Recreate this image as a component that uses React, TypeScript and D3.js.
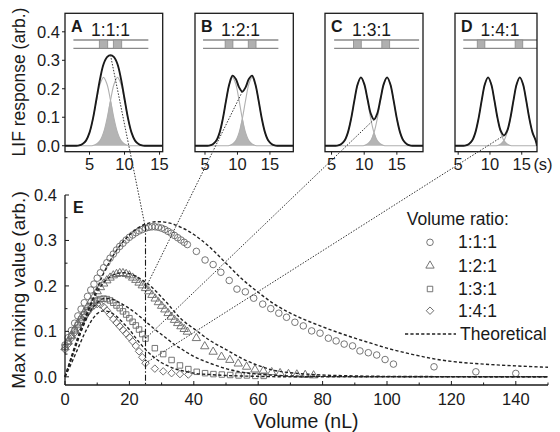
import * as d3 from 'd3';

const FONT = '"Liberation Sans", Arial, sans-serif';

// ---- inset panels A-D (LIF traces) ----
const insetLetters = ['A', 'B', 'C', 'D'];
const insetRatios = ['1:1:1', '1:2:1', '1:3:1', '1:4:1'];
const insetDomains: [number, number][] = [[1.5, 15.45], [3.46, 18.6], [4, 19], [4.5, 17.4]];
const firstPeak = [7, 9.25, 9.5, 9.7];
const secondPeak = [9, 12.25, 13.5, 14.7];
const firstPlug = [6.4, 8.1, 8.35, 8.0];
const secondPlug = [8.4, 11.66, 12.7, 13.96];
const plugLength = 1.2;
const channelStart = [2.7, 4.7, 5.4, 5.8];
const channelEnd = [13.4, 16.3, 18.4, 17.4];
const insetTicks = [5, 10, 15];
const lifTicks = [0, 0.1, 0.2, 0.3, 0.4];
// single plug response, sampled every 0.5 s from -4 s to +4 s around its centre
const pulseStep = 0.5;
const pulseShape = [0, 0.001, 0.006, 0.018, 0.046, 0.095, 0.159, 0.216, 0.24, 0.216, 0.159, 0.095, 0.046, 0.018, 0.006, 0.001, 0];

// ---- panel E: measured max mixing value ----
const circleVol = [0, 1, 2, 3, 4, 5, 6, 7, 8, 9, 10, 11, 12, 13, 14, 15, 16, 17, 18, 19, 20, 21, 22, 23, 24, 25, 26, 27, 28, 29, 30, 31, 32, 33, 34, 35, 36, 37, 38,
  40.8, 43.5, 46, 48.4, 51, 53.4, 56, 58.6, 61.4, 63.9, 66.4, 68.8, 71.4, 74, 76.6, 79.2, 81.8, 84.2, 86.7, 89.3, 91.6, 94.2, 96.8, 99.4, 102, 114.6, 127.6, 140];
const circleMix = [0.07, 0.086, 0.102, 0.118, 0.134, 0.149, 0.163, 0.177, 0.191, 0.204, 0.217, 0.229, 0.24, 0.251, 0.261, 0.27, 0.279, 0.287, 0.294, 0.301, 0.307, 0.312, 0.317, 0.321, 0.324, 0.327, 0.329, 0.33, 0.33, 0.329, 0.327, 0.324, 0.32, 0.316, 0.311, 0.306, 0.301, 0.296, 0.291,
  0.276, 0.257, 0.247, 0.23, 0.212, 0.193, 0.187, 0.173, 0.16, 0.15, 0.14, 0.131, 0.12, 0.112, 0.101, 0.096, 0.085, 0.079, 0.072, 0.068, 0.057, 0.053, 0.048, 0.038, 0.028, 0.022, 0.011, 0.0075];

const triangleVol = [0, 1, 2, 3, 4, 5, 6, 7, 8, 9, 10, 11, 12, 13, 14, 15, 16, 17, 18, 19, 20, 21, 22, 23, 24, 25, 26, 27, 28, 29, 30, 31, 32, 33, 34, 35, 36, 37, 38,
  40.8, 43.4, 46, 48.6, 51.2, 53.8, 56.4, 59, 61.6, 64.2, 66.8, 69.4, 72, 74.6, 77.2];
const triangleMix = [0.065, 0.078, 0.091, 0.104, 0.117, 0.13, 0.142, 0.154, 0.166, 0.177, 0.188, 0.197, 0.205, 0.212, 0.218, 0.223, 0.226, 0.228, 0.228, 0.226, 0.223, 0.218, 0.213, 0.207, 0.201, 0.195, 0.188, 0.18, 0.172, 0.164, 0.156, 0.148, 0.14, 0.132, 0.125, 0.118, 0.111, 0.105, 0.099,
  0.085, 0.067, 0.055, 0.044, 0.037, 0.029, 0.022, 0.016, 0.013, 0.01, 0.008, 0.006, 0.005, 0.004, 0.003];

const squareVol = [0, 1, 2, 3, 4, 5, 6, 7, 8, 9, 10, 11, 12, 13, 14, 15, 16, 17, 18, 19, 20, 21, 22, 23, 24, 25,
  27.9, 30.5, 33.1, 35.7, 38.3, 40.9, 43.5, 46.1, 48.7, 51.3, 53.9, 56.5, 59.1, 61.7];
const squareMix = [0.065, 0.077, 0.09, 0.102, 0.114, 0.126, 0.137, 0.147, 0.156, 0.163, 0.168, 0.171, 0.172, 0.171, 0.168, 0.163, 0.157, 0.151, 0.144, 0.137, 0.129, 0.121, 0.113, 0.104, 0.094, 0.084,
  0.063, 0.05, 0.037, 0.025, 0.017, 0.011, 0.008, 0.006, 0.005, 0.004, 0.003, 0.003, 0.002, 0.002];

const diamondVol = [0, 1, 2, 3, 4, 5, 6, 7, 8, 9, 10, 11, 12, 13, 14, 15, 16, 17, 18, 19, 20, 21, 22, 23, 24, 25,
  27.9, 30.5, 33.1, 35.7, 38.3];
const diamondMix = [0.06, 0.072, 0.085, 0.097, 0.109, 0.121, 0.132, 0.142, 0.151, 0.157, 0.16, 0.159, 0.154, 0.146, 0.137, 0.127, 0.119, 0.111, 0.103, 0.095, 0.087, 0.078, 0.068, 0.056, 0.043, 0.03,
  0.018, 0.012, 0.008, 0.006, 0.005];

// ---- panel E: theoretical curves ----
const theory111Vol = [0, 2, 4, 6, 8, 10, 12, 14, 16, 18, 20, 22, 24, 26, 28, 30, 32, 34, 36, 38, 40, 45, 50, 55, 60, 65, 70, 75, 80, 85, 90, 95, 100, 105, 110, 115, 120, 130, 140, 150];
const theory111 = [0, 0.04, 0.08, 0.12, 0.16, 0.195, 0.228, 0.255, 0.278, 0.297, 0.312, 0.324, 0.333, 0.338, 0.341, 0.341, 0.339, 0.335, 0.329, 0.322, 0.313, 0.285, 0.25, 0.215, 0.186, 0.16, 0.14, 0.124, 0.11, 0.097, 0.085, 0.074, 0.063, 0.054, 0.046, 0.039, 0.034, 0.028, 0.024, 0.021];
const theory121Vol = [0, 2, 4, 6, 8, 10, 12, 14, 16, 18, 20, 22, 24, 26, 28, 30, 32, 34, 36, 38, 40, 45, 50, 55, 60, 65, 70, 80, 90, 100, 150];
const theory121 = [0, 0.045, 0.088, 0.126, 0.16, 0.187, 0.207, 0.22, 0.227, 0.229, 0.227, 0.221, 0.213, 0.203, 0.19, 0.175, 0.16, 0.143, 0.128, 0.116, 0.106, 0.08, 0.06, 0.04, 0.025, 0.014, 0.009, 0.004, 0.002, 0.001, 0];
const theory131Vol = [0, 2, 4, 6, 8, 10, 12, 14, 16, 18, 20, 22, 24, 26, 28, 30, 32, 34, 36, 38, 40, 45, 50, 55, 60, 70, 80, 100, 150];
const theory131 = [0, 0.042, 0.082, 0.117, 0.145, 0.163, 0.172, 0.172, 0.167, 0.159, 0.15, 0.14, 0.128, 0.116, 0.104, 0.093, 0.082, 0.071, 0.062, 0.053, 0.045, 0.03, 0.018, 0.01, 0.006, 0.002, 0.001, 0, 0];
const theory141Vol = [0, 2, 4, 6, 8, 10, 12, 14, 16, 18, 20, 22, 24, 26, 28, 30, 32, 34, 36, 38, 40, 45, 50, 60, 70, 150];
const theory141 = [0, 0.03, 0.062, 0.094, 0.121, 0.139, 0.145, 0.142, 0.133, 0.119, 0.104, 0.085, 0.068, 0.053, 0.041, 0.031, 0.024, 0.018, 0.014, 0.011, 0.008, 0.005, 0.003, 0.001, 0, 0];

const legendLabels = ['1:1:1', '1:2:1', '1:3:1', '1:4:1'];
const mixTicks = [0, 0.1, 0.2, 0.3, 0.4];
const mixMinor = [0.05, 0.15, 0.25, 0.35];
const volTicks = [0, 20, 40, 60, 80, 100, 120, 140];
const volMinor = [10, 30, 50, 70, 90, 110, 130, 150];
const markerVolume = 25;

// layout
const insetLeft = [65, 195, 325, 455];
const insetRight = [162.7, 293.3, 423, 537];
const insetTop = 13.3;
const insetBottom = 151.7;
const channelY = [40, 48.3];

const ink = '#1a1a1a';
const markerStroke = '#666';

type Pt = [number, number];

function pulseAt(offset: number) {
  const k = Math.round(offset / pulseStep) + (pulseShape.length - 1) / 2;
  return k >= 0 && k < pulseShape.length ? pulseShape[k] : 0;
}

function symbolPath(kind: number) {
  if (kind === 0) return d3.symbol(d3.symbolCircle, 34)() as string;
  if (kind === 1) return d3.symbol(d3.symbolTriangle, 30)() as string;
  return d3.symbol(d3.symbolSquare, kind === 2 ? 30 : 28)() as string;
}

function Inset({ i }: { i: number }) {
  const x = d3.scaleLinear().domain(insetDomains[i]).range([insetLeft[i], insetRight[i]]);
  const y = d3.scaleLinear().domain([-0.021, 0.465]).range([insetBottom, insetTop]);
  const [d0, d1] = insetDomains[i];
  const c1 = firstPeak[i];
  const c2 = secondPeak[i];
  const kStart = Math.ceil((d0 - c1) / pulseStep);
  const kEnd = Math.floor((d1 - c1) / pulseStep);
  const times = d3.range(kStart, kEnd + 1).map((k) => c1 + k * pulseStep);
  const g1: Pt[] = times.map((t) => [t, pulseAt(t - c1)]);
  const g2: Pt[] = times.map((t) => [t, pulseAt(t - c2)]);
  const sum: Pt[] = times.map((t, j) => [t, g1[j][1] + g2[j][1]]);
  const overlap: Pt[] = times.map((t, j) => [t, Math.min(g1[j][1], g2[j][1])]);
  const ends = (pts: Pt[]): Pt[] => [[d0, 0], ...pts, [d1, 0]];

  const line = d3.line<Pt>().x((d) => x(d[0])).y((d) => y(d[1])).curve(d3.curveCatmullRom);
  const area = d3.area<Pt>().x((d) => x(d[0])).y0(y(0)).y1((d) => y(d[1])).curve(d3.curveCatmullRom);
  const plugs = [firstPlug[i], secondPlug[i]];
  const mid = (firstPlug[i] + secondPlug[i] + plugLength) / 2;

  return (
    <g>
      <clipPath id={`clip${i}`}>
        <rect x={insetLeft[i]} y={insetTop} width={insetRight[i] - insetLeft[i]} height={insetBottom - insetTop} />
      </clipPath>
      <g clipPath={`url(#clip${i})`}>
        <path d={area(overlap) as string} fill="#b4b4b4" stroke="none" />
        <path d={line(ends(g1)) as string} fill="none" stroke="#b0b0b0" strokeWidth={1.1} />
        <path d={line(ends(g2)) as string} fill="none" stroke="#b0b0b0" strokeWidth={1.1} />
        <path d={line(ends(sum)) as string} fill="none" stroke={ink} strokeWidth={1.9} />
      </g>
      {channelY.map((cy) => (
        <line key={cy} x1={x(channelStart[i])} x2={x(channelEnd[i])} y1={cy} y2={cy} stroke="#8a8a8a" strokeWidth={1.3} />
      ))}
      {plugs.map((p) => (
        <rect key={p} x={x(p)} y={channelY[0]} width={x(p + plugLength) - x(p)} height={channelY[1] - channelY[0]}
          fill="#b0b0b0" stroke="#8a8a8a" strokeWidth={0.8} />
      ))}
      <rect x={insetLeft[i]} y={insetTop} width={insetRight[i] - insetLeft[i]} height={insetBottom - insetTop}
        fill="none" stroke={ink} strokeWidth={1.3} />
      <text x={insetLeft[i] + 6} y={32} fontSize={16} fontWeight="bold" fill={ink}>{insetLetters[i]}</text>
      <text x={x(mid)} y={35.5} fontSize={17.5} textAnchor="middle" fill={ink}>{insetRatios[i]}</text>
      {insetTicks.map((t) => (
        <g key={t}>
          <line x1={x(t)} x2={x(t)} y1={insetBottom} y2={insetBottom + 3} stroke={ink} strokeWidth={1} />
          <text x={x(t)} y={170} fontSize={16.5} textAnchor="middle" fill={ink}>{t}</text>
        </g>
      ))}
      {i === 0 &&
        lifTicks.map((t) => (
          <g key={t}>
            <line x1={insetLeft[0] - 3} x2={insetLeft[0]} y1={y(t)} y2={y(t)} stroke={ink} strokeWidth={1} />
            <text x={60} y={y(t)} dy="0.36em" fontSize={16.5} textAnchor="end" fill={ink}>{t.toFixed(1)}</text>
          </g>
        ))}
    </g>
  );
}

export default function App() {
  const xMain = d3.scaleLinear().domain([0, 150]).range([65, 548]);
  const yMain = d3.scaleLinear().domain([-0.018, 0.4]).range([385, 195]);
  const yInset = d3.scaleLinear().domain([-0.021, 0.465]).range([insetBottom, insetTop]);

  const series = [
    { vol: circleVol, mix: circleMix },
    { vol: triangleVol, mix: triangleMix },
    { vol: squareVol, mix: squareMix },
    { vol: diamondVol, mix: diamondMix },
  ];
  const theory = [
    { vol: theory111Vol, mix: theory111 },
    { vol: theory121Vol, mix: theory121 },
    { vol: theory131Vol, mix: theory131 },
    { vol: theory141Vol, mix: theory141 },
  ];
  const theoryLine = d3.line<Pt>().x((d) => xMain(d[0])).y((d) => yMain(d[1])).curve(d3.curveMonotoneX);

  // dotted connectors: inset mixing point -> measured value at 25 nL
  const connectors = series.map((s, i) => {
    const xi = d3.scaleLinear().domain(insetDomains[i]).range([insetLeft[i], insetRight[i]]);
    const half = (secondPeak[i] - firstPeak[i]) / 2;
    const midT = firstPeak[i] + half;
    const sumMid = 2 * pulseAt(half);
    const j = s.vol.indexOf(markerVolume);
    return { x1: xi(midT), y1: yInset(sumMid), x2: xMain(markerVolume), y2: yMain(s.mix[j]) };
  });

  const legendRows = [248.3, 271.7, 295, 316.7];

  return (
    <svg width={560} height={432} style={{ display: 'block', position: 'absolute', left: 0, top: 0 }} fontFamily={FONT}>
      <rect width={560} height={432} fill="#fff" />
      {[0, 1, 2, 3].map((i) => <Inset key={i} i={i} />)}
      <text x={543} y={170} fontSize={16.5} textAnchor="middle" fill={ink}>(s)</text>
      <text transform="translate(25,82) rotate(-90)" fontSize={17.5} textAnchor="middle" fill={ink}>LIF response (arb.)</text>

      {/* panel E markers */}
      {series.map((s, k) => (
        <g key={k} fill="none" stroke={markerStroke} strokeWidth={0.9}>
          {s.vol.map((v, j) => (
            <path key={j} d={symbolPath(k)}
              transform={`translate(${xMain(v)},${yMain(s.mix[j])})${k === 3 ? ' rotate(45)' : ''}`} />
          ))}
        </g>
      ))}
      {theory.map((t, k) => (
        <path key={k} d={theoryLine(t.vol.map((v, j) => [v, t.mix[j]] as Pt)) as string}
          fill="none" stroke="#222" strokeWidth={1.4} strokeDasharray="3.2,2.2" />
      ))}

      {/* axes */}
      <line x1={xMain(0)} x2={xMain(0)} y1={yMain.range()[0]} y2={yMain.range()[1]} stroke={ink} strokeWidth={1.3} />
      <line x1={xMain(0)} x2={xMain(150)} y1={yMain.range()[0]} y2={yMain.range()[0]} stroke={ink} strokeWidth={1.3} />
      {volTicks.map((t) => (
        <g key={t}>
          <line x1={xMain(t)} x2={xMain(t)} y1={385} y2={381} stroke={ink} />
          <text x={xMain(t)} y={405} fontSize={16.5} textAnchor="middle" fill={ink}>{t}</text>
        </g>
      ))}
      {volMinor.map((t) => (
        <line key={t} x1={xMain(t)} x2={xMain(t)} y1={385} y2={382.5} stroke={ink} />
      ))}
      {mixTicks.map((t) => (
        <g key={t}>
          <line x1={65} x2={69} y1={yMain(t)} y2={yMain(t)} stroke={ink} />
          <text x={57} y={yMain(t)} dy="0.36em" fontSize={16.5} textAnchor="end" fill={ink}>{t.toFixed(1)}</text>
        </g>
      ))}
      {mixMinor.map((t) => (
        <line key={t} x1={65} x2={67.5} y1={yMain(t)} y2={yMain(t)} stroke={ink} />
      ))}
      <text x={73} y={213} fontSize={16} fontWeight="bold" fill={ink}>E</text>
      <text x={306} y={428} fontSize={19.5} textAnchor="middle" fill={ink}>Volume (nL)</text>
      <text transform="translate(25,290) rotate(-90)" fontSize={19} textAnchor="middle" fill={ink}>Max mixing value (arb.)</text>

      {/* guide at 25 nL and connectors */}
      <line x1={xMain(markerVolume)} x2={xMain(markerVolume)} y1={yMain(circleMix[circleVol.indexOf(markerVolume)]) - 3} y2={385}
        stroke={ink} strokeWidth={1.1} strokeDasharray="6,2,1.5,2" />
      {connectors.map((c, i) => (
        <line key={i} x1={c.x1} y1={c.y1} x2={c.x2} y2={c.y2} stroke="#333" strokeWidth={1} strokeDasharray="1.5,1.5" />
      ))}

      {/* legend */}
      <text x={406.7} y={225} fontSize={17.5} fill={ink}>Volume ratio:</text>
      {legendLabels.map((lab, k) => (
        <g key={lab}>
          <path d={symbolPath(k)} transform={`translate(430,${legendRows[k] - 6})${k === 3 ? ' rotate(45)' : ''}`}
            fill="none" stroke={markerStroke} strokeWidth={0.9} />
          <text x={458} y={legendRows[k]} fontSize={17.5} fill={ink}>{lab}</text>
        </g>
      ))}
      <line x1={405} x2={456} y1={334} y2={334} stroke="#222" strokeWidth={1.4} strokeDasharray="3.2,2.2" />
      <text x={460} y={340} fontSize={17.5} fill={ink}>Theoretical</text>
    </svg>
  );
}
